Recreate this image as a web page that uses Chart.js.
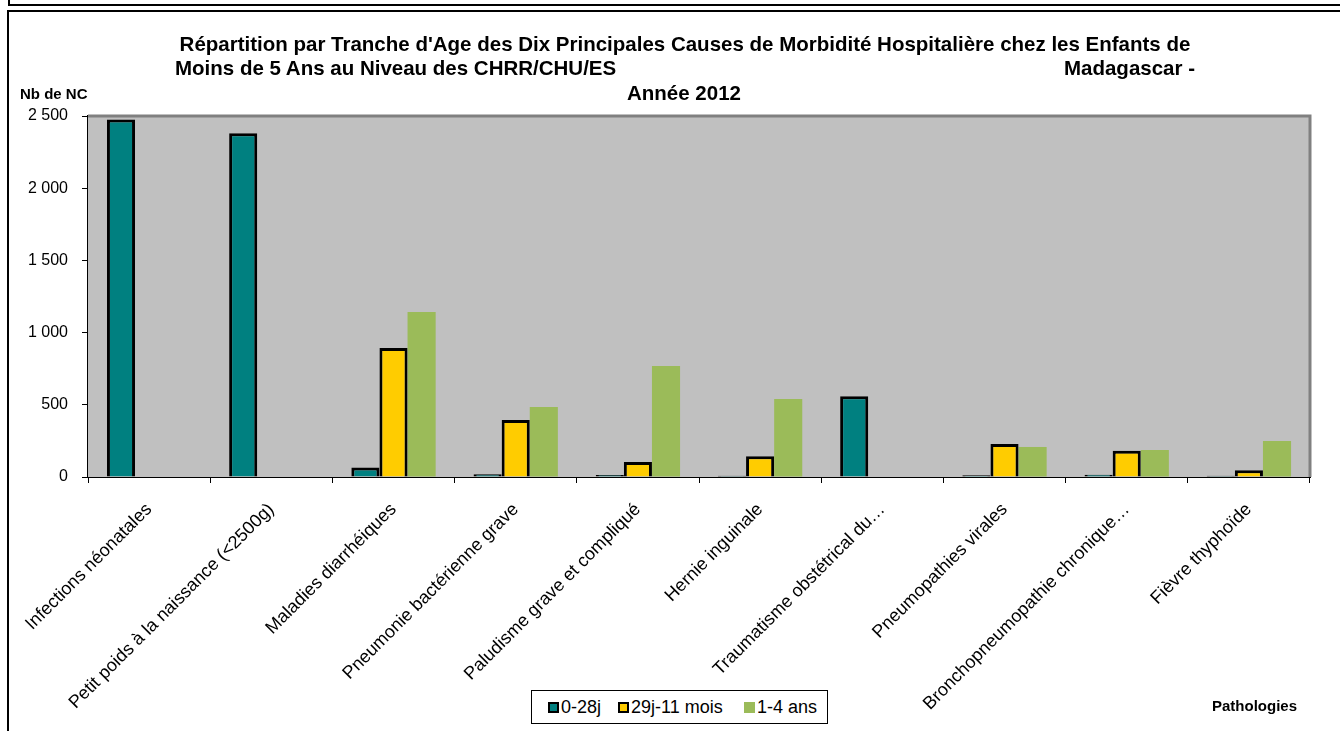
<!DOCTYPE html>
<html>
<head>
<meta charset="utf-8">
<script src="https://cdn.jsdelivr.net/npm/chart.js@4"></script>
<style>
  body { margin: 0; background: #fff; font-family: "Liberation Sans", Arial, sans-serif; }
  #wrap { position: relative; width: 1340px; height: 731px; overflow: hidden; }
  #topbox { position: absolute; left: 8px; top: -4px; width: 1340px; height: 6px; border: 2px solid #000; }
  #frame { position: absolute; left: 7px; top: 10px; width: 1340px; height: 740px; border: 2px solid #000; }
  canvas { position: absolute; left: 0; top: 0; }
  .title { position: absolute; font-weight: bold; font-size: 20.5px; color: #000; white-space: nowrap; }
  .axisname { position: absolute; font-weight: bold; font-size: 15px; color: #000; }
  #legend { position: absolute; left: 531px; top: 690px; width: 295px; height: 32px; border: 1.5px solid #000;
            font-size: 18px; background: #fff; }
  .item { position: absolute; top: 6px; display: flex; align-items: center; white-space: nowrap; }
  .sw { width: 7px; height: 7px; margin-right: 2px; }
</style>
</head>
<body>
<div id="wrap">
  <div id="topbox"></div>
  <div id="frame"></div>
  <canvas id="chart" width="1340" height="731"></canvas>
  <div class="title" style="left:0;width:1370px;text-align:center;top:32px;">Répartition par Tranche d'Age des Dix Principales Causes de Morbidité Hospitalière chez les Enfants de</div>
  <div class="title" style="left:175px;top:56px;">Moins de 5 Ans au Niveau des CHRR/CHU/ES</div>
  <div class="title" style="right:145px;top:56px;">Madagascar -</div>
  <div class="title" style="left:0;width:1368px;text-align:center;top:81px;">Année 2012</div>
  <div class="axisname" style="left:20px;top:85px;">Nb de NC</div>
  <div class="axisname" style="left:1212px;top:697px;">Pathologies</div>
  <div id="legend">
    <div class="item" style="left:16px;"><span class="sw" style="background:#008080;border:2px solid #000;"></span>0-28j</div>
    <div class="item" style="left:86px;"><span class="sw" style="background:#FFCC00;border:2px solid #000;"></span>29j-11 mois</div>
    <div class="item" style="left:212px;"><span class="sw" style="background:#9BBB59;border:2px solid #9BBB59;"></span>1-4 ans</div>
  </div>
</div>
<script>
// Pathologies (catégories)
const pathologies = [
    'Infections néonatales',
    'Petit poids à la naissance (<2500g)',
    'Maladies diarrhéiques',
    'Pneumonie bactérienne grave',
    'Paludisme grave et compliqué',
    'Hernie inguinale',
    'Traumatisme obstétrical du…',
    'Pneumopathies virales',
    'Bronchopneumopathie chronique…',
    'Fièvre thyphoïde'
];

// Nombre de cas par tranche d'âge
const cas0a28j = [2475, 2380, 65, 19, 14, 8, 560, 12, 16, 8];
const cas29jA11mois = [0, 0, 893, 395, 104, 143, 0, 228, 182, 46];
const cas1a4ans = [0, 0, 1143, 485, 768, 540, 0, 208, 187, 249];

const yTicks = [0, 500, 1000, 1500, 2000, 2500];

const couleurs = {
    teal: '#008080',
    jaune: '#FFCC00',
    vert: '#9BBB59',
    fond: '#C0C0C0',
    cadre: '#808080'
};

// fond gris de la zone de tracé + bordure haut/droite
const plotBackground = {
    id: 'plotBackground',
    beforeDatasetsDraw(chart) {
        const { ctx, chartArea: a } = chart;
        ctx.save();
        ctx.fillStyle = couleurs.fond;
        ctx.fillRect(a.left, a.top, a.right - a.left, a.bottom - a.top);
        ctx.restore();
    },
    afterDatasetsDraw(chart) {
        const { ctx, chartArea: a } = chart;
        ctx.save();
        ctx.strokeStyle = couleurs.cadre;
        ctx.lineWidth = 3;
        ctx.beginPath();
        ctx.moveTo(a.left, a.top);
        ctx.lineTo(a.right, a.top);
        ctx.lineTo(a.right, a.bottom);
        ctx.stroke();
        ctx.restore();
    }
};

function fmt(v) {
    return String(v).replace(/\B(?=(\d{3})+(?!\d))/g, ' ');
}

const ctx = document.getElementById('chart').getContext('2d');
new Chart(ctx, {
    type: 'bar',
    data: {
        labels: pathologies,
        datasets: [{
            label: '0-28j',
            data: cas0a28j,
            backgroundColor: couleurs.teal,
            borderColor: '#000',
            borderWidth: 3
        }, {
            label: '29j-11 mois',
            data: cas29jA11mois,
            backgroundColor: couleurs.jaune,
            borderColor: '#000',
            borderWidth: 3
        }, {
            label: '1-4 ans',
            data: cas1a4ans,
            backgroundColor: couleurs.vert,
            borderWidth: 0
        }]
    },
    options: {
        responsive: false,
        animation: false,
        categoryPercentage: 0.69,
        barPercentage: 1,
        layout: { padding: { top: 116, right: 30, left: 0, bottom: 0 } },
        plugins: {
            legend: { display: false },
            tooltip: { enabled: false }
        },
        scales: {
            x: {
                offset: true,
                grid: { display: true, drawOnChartArea: false, offset: true, tickLength: 6, color: '#000' },
                border: { color: '#000', width: 2 },
                ticks: {
                    color: '#000',
                    font: { family: 'Liberation Sans', size: 18 },
                    maxRotation: 45,
                    minRotation: 45,
                    autoSkip: false,
                    padding: 16
                },
                afterFit(scale) { scale.height = 254; }
            },
            y: {
                min: 0,
                max: 2500,
                afterBuildTicks(scale) { scale.ticks = yTicks.map(v => ({ value: v })); },
                grid: { display: true, drawOnChartArea: false, tickLength: 6, color: '#000' },
                border: { color: '#000', width: 2 },
                ticks: {
                    color: '#000',
                    font: { family: 'Liberation Sans', size: 16 },
                    padding: 14,
                    callback: v => fmt(v)
                },
                afterFit(scale) { scale.width = 88; }
            }
        }
    },
    plugins: [plotBackground]
});
</script>
</body>
</html>
